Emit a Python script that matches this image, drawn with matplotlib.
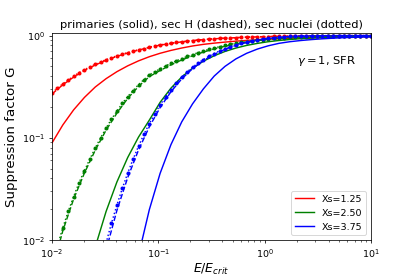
import numpy as np
import matplotlib
matplotlib.use("Agg")
import matplotlib.pyplot as plt

nan = float("nan")

# Energy grid E/E_crit (markers use every point, lines every other point + last)
E_dense = [0.01, 0.01124, 0.01264, 0.01421, 0.01597, 0.01796, 0.02019, 0.02269, 0.02551, 0.02868,
           0.03224, 0.03624, 0.04074, 0.04581, 0.05149, 0.05789, 0.06508, 0.07316, 0.08225, 0.09246,
           0.1039, 0.1168, 0.1314, 0.1477, 0.1660, 0.1866, 0.2098, 0.2359, 0.2652, 0.2981,
           0.3351, 0.3767, 0.4235, 0.4761, 0.5352, 0.6017, 0.6764, 0.7604, 0.8548, 0.9610,
           1.080, 1.215, 1.365, 1.535, 1.726, 1.940, 2.181, 2.452, 2.756, 3.099,
           3.484, 3.916, 4.403, 4.950, 5.564, 6.255, 7.032, 7.906, 8.888, 10.0]
E_line = E_dense[0::2] + [E_dense[-1]]

xs_labels = ["Xs=1.25", "Xs=2.50", "Xs=3.75"]
colors = ["red", "green", "blue"]

# primaries (solid)
prim_125 = [0.0889, 0.1334, 0.1873, 0.2480, 0.3135, 0.3782, 0.4426, 0.5050, 0.5649, 0.6204,
            0.6703, 0.7149, 0.7546, 0.7901, 0.8193, 0.8423, 0.8624, 0.8803, 0.8958, 0.9093,
            0.9204, 0.9300, 0.9385, 0.9459, 0.9525, 0.9581, 0.9628, 0.9670, 0.9708, 0.9740, 0.9756]
prim_250 = [nan, nan, nan, nan, 0.00853, 0.01897, 0.03684, 0.06399, 0.1014, 0.1487,
            0.2220, 0.3057, 0.3933, 0.4795, 0.5606, 0.6340, 0.6985, 0.7539, 0.8005, 0.8377,
            0.8697, 0.8944, 0.9147, 0.9312, 0.9446, 0.9554, 0.9642, 0.9713, 0.9770, 0.9816, 0.9834]
prim_375 = [nan, nan, nan, nan, nan, nan, nan, nan, 0.00706, 0.01977,
            0.04482, 0.08567, 0.1431, 0.2146, 0.3006, 0.4010, 0.4991, 0.5899, 0.6697, 0.7373,
            0.7933, 0.8387, 0.8701, 0.8933, 0.9126, 0.9287, 0.9420, 0.9529, 0.9618, 0.9690, 0.9721]

# secondary H (dashed)
secH_125 = [0.2679, 0.3296, 0.3917, 0.4550, 0.5140, 0.5728, 0.6252, 0.6745, 0.7211, 0.7638,
            0.8054, 0.8375, 0.8670, 0.8913, 0.9120, 0.9290, 0.9419, 0.9528, 0.9638, 0.9705,
            0.9772, 0.9817, 0.9863, 0.9897, 0.9920, 0.9938, 0.9952, 0.9963, 0.9972, 0.9977, 0.9979]
secH_250 = [0.00501, 0.0123, 0.02512, 0.04519, 0.07551, 0.1186, 0.1738, 0.2427, 0.3177, 0.3963,
            0.4550, 0.5164, 0.5768, 0.6339, 0.6887, 0.7396, 0.7852, 0.8260, 0.8610, 0.8913,
            0.9162, 0.9376, 0.9550, 0.9672, 0.9772, 0.9835, 0.9883, 0.9915, 0.9938, 0.9956, 0.9961]
secH_375 = [nan, nan, nan, nan, nan, 0.00794, 0.01941, 0.04074, 0.07586, 0.1279,
            0.1972, 0.2818, 0.3767, 0.4742, 0.5689, 0.6546, 0.7328, 0.7998, 0.8551, 0.9016,
            0.9354, 0.9605, 0.9763, 0.9865, 0.9924, 0.9959, 0.9977, 0.9989, 0.9993, 0.9995, 0.9998]

# secondary nuclei (dotted)
secN_125 = [0.2742, 0.3055, 0.3373, 0.3681, 0.3999, 0.4335, 0.4634, 0.4932, 0.5224, 0.5521,
            0.5808, 0.6067, 0.6324, 0.6577, 0.6808, 0.7031, 0.7261, 0.7464, 0.7691, 0.7907,
            0.8091, 0.8260, 0.8414, 0.8551, 0.8690, 0.8810, 0.8933, 0.9036, 0.9120, 0.9204,
            0.9290, 0.9354, 0.9419, 0.9484, 0.9528, 0.9594, 0.9638, 0.9683, 0.9705, 0.9750,
            0.9772, 0.9795, 0.9817, 0.9840, 0.9863, 0.9886, 0.9897, 0.9908, 0.9920, 0.9931,
            0.9938, 0.9945, 0.9952, 0.9959, 0.9963, 0.9968, 0.9972, 0.9975, 0.9977, 0.9979]
secN_250 = [0.00537, 0.00871, 0.01318, 0.01905, 0.02661, 0.03631, 0.04764, 0.06194, 0.07943, 0.1000,
            0.1242, 0.1521, 0.1816, 0.2168, 0.2529, 0.2897, 0.3304, 0.3707, 0.4121, 0.4416,
            0.4721, 0.5035, 0.5346, 0.5649, 0.5957, 0.6237, 0.6516, 0.6792, 0.7063, 0.7311,
            0.7551, 0.7780, 0.7998, 0.8204, 0.8395, 0.8570, 0.8730, 0.8872, 0.9016, 0.9141,
            0.9247, 0.9354, 0.9441, 0.9528, 0.9594, 0.9661, 0.9705, 0.9750, 0.9795, 0.9824,
            0.9851, 0.9874, 0.9895, 0.9911, 0.9924, 0.9936, 0.9945, 0.9954, 0.9961, 0.9966]
secN_375 = [nan, nan, nan, nan, nan, nan, nan, nan, nan, 0.00562,
            0.00933, 0.01459, 0.02188, 0.03192, 0.04508, 0.0618, 0.0826, 0.1079, 0.1374, 0.1714,
            0.2094, 0.2512, 0.2958, 0.3428, 0.3917, 0.4406, 0.4898, 0.5370, 0.5821, 0.6252,
            0.6668, 0.7063, 0.7430, 0.7780, 0.8091, 0.8375, 0.8630, 0.8872, 0.9078, 0.9247,
            0.9397, 0.9528, 0.9638, 0.9716, 0.9784, 0.9835, 0.9876, 0.9908, 0.9931, 0.9949,
            0.9963, 0.9972, 0.9979, 0.9986, 0.9989, 0.9991, 0.9993, 0.9995, 0.9995, 0.9998]

prim = [prim_125, prim_250, prim_375]
secH = [secH_125, secH_250, secH_375]
secN = [secN_125, secN_250, secN_375]

DPI = 68.84
fig = plt.figure(figsize=(6, 4), dpi=DPI)
ax = fig.add_axes([0.1259, 0.1273, 0.7724, 0.7518])

for lab, c, p, h, n in zip(xs_labels, colors, prim, secH, secN):
    ax.plot(E_line, p, "-", color=c, lw=1.5, label=lab)
    ax.plot(E_line, h, "--", color=c, lw=1.5)
    ax.plot(E_dense, n, ":", color=c, lw=1.5, marker="o", markersize=4.2,
            markeredgewidth=0)

ax.set_xscale("log")
ax.set_yscale("log")
ax.set_xlim(1e-2, 1e1)
ax.set_ylim(1e-2, 1.06)
ax.set_title("primaries (solid), sec H (dashed), sec nuclei (dotted)", fontsize=12)
ax.set_xlabel(r"$E/E_{crit}$", fontsize=13, labelpad=2)
ax.set_ylabel("Suppression factor G", fontsize=14)
ax.text(0.955, 0.868, r"$\gamma=1$, SFR", transform=ax.transAxes, ha="right", va="center",
        fontsize=12)
ax.legend(loc="lower right", fontsize=10)

fig.savefig("out.png", dpi=DPI)
